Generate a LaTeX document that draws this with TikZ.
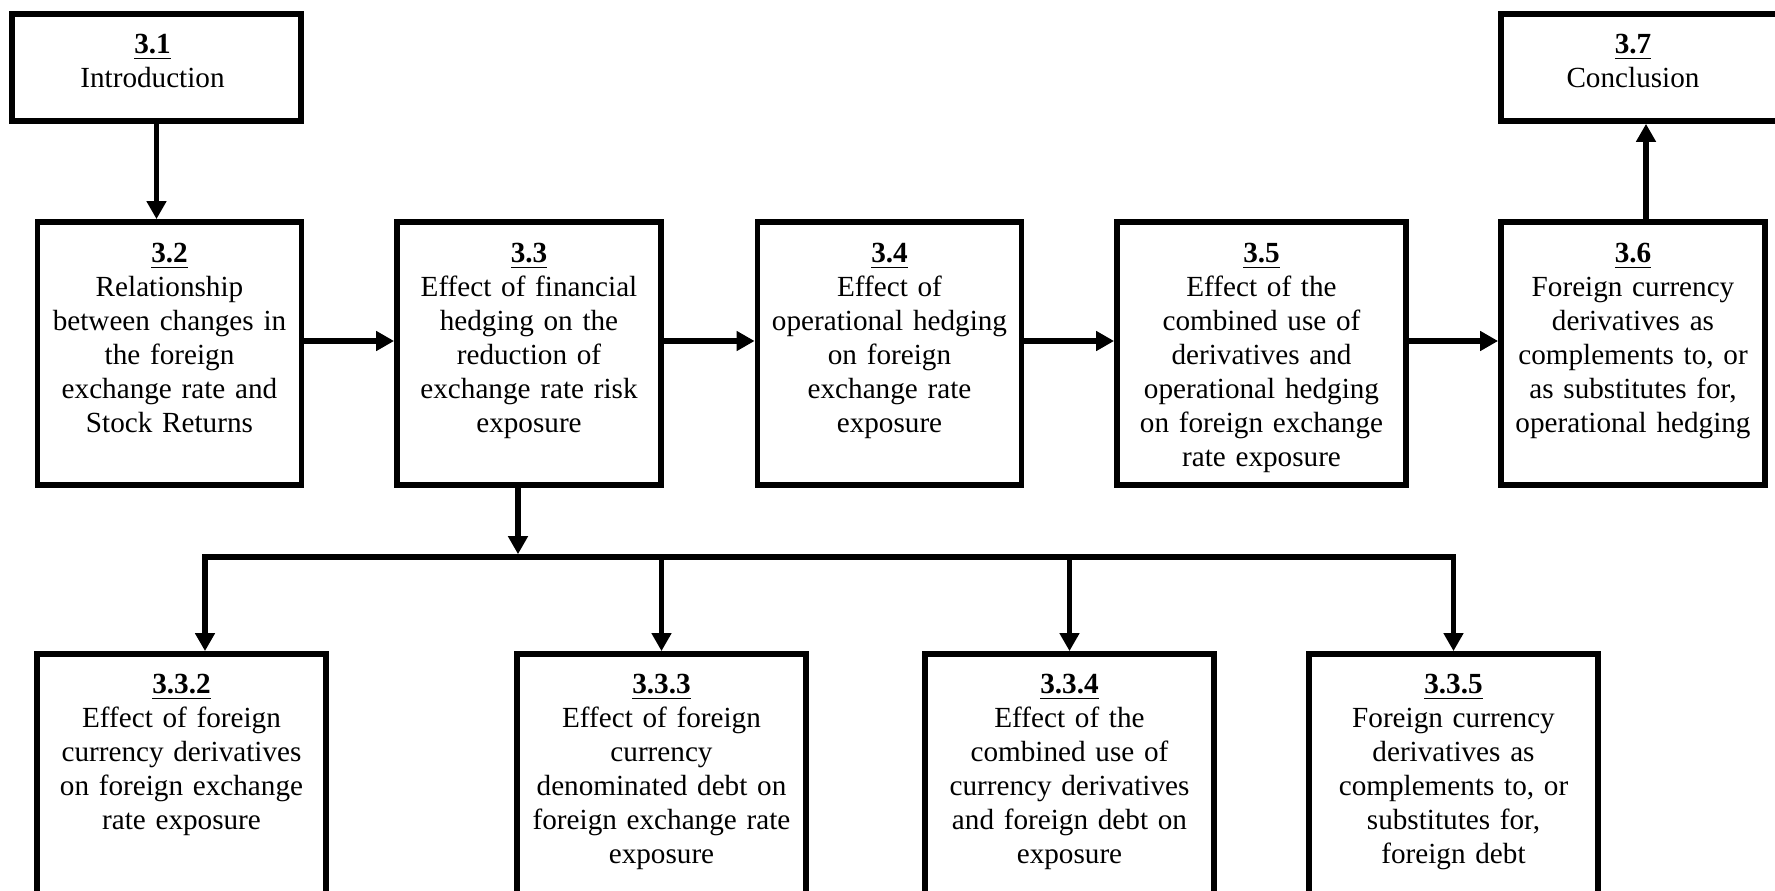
\documentclass[tikz,border=0pt]{standalone}
\usepackage{fontspec}
\setmainfont{Liberation Serif}
\usetikzlibrary{arrows.meta,positioning}
\tikzset{
  secbox/.style    = {draw,line width=1.6pt,minimum height=2.63cm,inner sep=0pt},
  narrowbox/.style = {secbox,minimum width=2.64cm},
  widebox/.style   = {secbox,minimum width=2.89cm},
  sectext/.style   = {align=center,text width=2.8cm,inner sep=0pt,font=\fontsize{8.3}{9.67}\selectfont},
  flowarr/.style   = {-{Triangle[length=1.8mm,width=1.9mm]},line width=1.6pt},
  busline/.style   = {line width=1.6pt,line cap=rect}
}
\newcommand{\sechead}[1]{\rule{0pt}{0.75em}\underline{\textbf{#1}}}

\begin{document}
\begin{tikzpicture}[x=0.01cm,y=-0.01cm]
  \useasboundingbox (0,0) rectangle (1775,891);
  \clip (0,0) rectangle (1775,891);
  % top row
  \node[widebox,minimum height=1.07cm]  (s31) at (156.5,67.5) {};
  \node[widebox,minimum height=1.07cm,minimum width=2.9cm] (s37) at (1646,67.5) {};
  \node[narrowbox] (s32) at (169.5,353.5) {};
  \node[narrowbox] (s33) at (529,353.5)   {};
  \node[narrowbox] (s34) at (889.5,353.5) {};
  \node[widebox]   (s35) at (1261.5,353.5){};
  \node[narrowbox] (s36) at (1633,353.5)  {};
  % sub-sections of 3.3
  \node[widebox,minimum height=2.64cm] (b332) at (181.5,786)  {};
  \node[widebox,minimum height=2.64cm] (b333) at (661.5,786)  {};
  \node[widebox,minimum height=2.64cm] (b334) at (1069.5,786) {};
  \node[widebox,minimum height=2.64cm] (b335) at (1453.5,786) {};

  \node[sectext,below=0.195cm of s31.north,xshift=-0.04cm] (t31) {\sechead{3.1}\\Introduction};
  \node[sectext,below=0.195cm of s37.north,xshift=-0.13cm] (t37) {\sechead{3.7}\\Conclusion};
  \node[sectext,below=0.205cm of s32.north] (t32) {\sechead{3.2}\\Relationship\\between changes in\\the foreign\\exchange rate and\\Stock Returns};
  \node[sectext,below=0.205cm of s33.north] (t33) {\sechead{3.3}\\Effect of financial\\hedging on the\\reduction of\\exchange rate risk\\exposure};
  \node[sectext,below=0.205cm of s34.north] (t34) {\sechead{3.4}\\Effect of\\operational hedging\\on foreign\\exchange rate\\exposure};
  \node[sectext,below=0.205cm of s35.north] (t35) {\sechead{3.5}\\Effect of the\\combined use of\\derivatives and\\operational hedging\\on foreign exchange\\rate exposure};
  \node[sectext,below=0.205cm of s36.north] (t36) {\sechead{3.6}\\Foreign currency\\derivatives as\\complements to, or\\as substitutes for,\\operational hedging};
  \node[sectext,below=0.195cm of b332.north] (t332) {\sechead{3.3.2}\\Effect of foreign\\currency derivatives\\on foreign exchange\\rate exposure};
  \node[sectext,below=0.195cm of b333.north] (t333) {\sechead{3.3.3}\\Effect of foreign\\currency\\denominated debt on\\foreign exchange rate\\exposure};
  \node[sectext,below=0.195cm of b334.north] (t334) {\sechead{3.3.4}\\Effect of the\\combined use of\\currency derivatives\\and foreign debt on\\exposure};
  \node[sectext,below=0.195cm of b335.north] (t335) {\sechead{3.3.5}\\Foreign currency\\derivatives as\\complements to, or\\substitutes for,\\foreign debt};

  % connectors
  \coordinate (rowy) at (0,341);
  \coordinate (hub)  at (518,557);
  \coordinate (busL) at (205,557);
  \coordinate (busR) at (1453.5,557);
  \draw[flowarr] (s31.south) -- (s31.south |- s32.north);
  \draw[flowarr] (s32.east |- rowy) -- (s33.west |- rowy);
  \draw[flowarr] (s33.east |- rowy) -- (s34.west |- rowy);
  \draw[flowarr] (s34.east |- rowy) -- (s35.west |- rowy);
  \draw[flowarr] (s35.east |- rowy) -- (s36.west |- rowy);
  \draw[flowarr] (s37.south |- s36.north) -- (s37.south);
  \draw[flowarr] (hub |- s33.south) -- ([yshift=0.028cm]hub);
  \draw[busline] (busL) -- (busR);
  \draw[flowarr] (busL) -- (busL |- b332.north);
  \draw[flowarr] (b333.north |- busL) -- (b333.north);
  \draw[flowarr] (b334.north |- busL) -- (b334.north);
  \draw[flowarr] (busR) -- (b335.north);
\end{tikzpicture}
\end{document}
